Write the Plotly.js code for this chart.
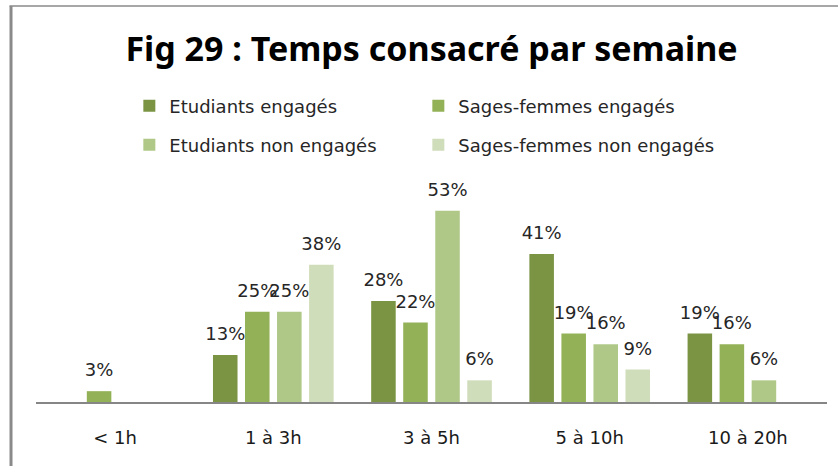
<!DOCTYPE html>
<html>
<head>
<meta charset="utf-8">
<script src="https://cdn.plot.ly/plotly-3.0.1.min.js"></script>
<style>html,body{margin:0;padding:0;background:#fff;}#chart{width:838px;height:466px;}</style>
</head>
<body>
<div id="chart"></div>
<script>
var categories = ['< 1h', '1 à 3h', '3 à 5h', '5 à 10h', '10 à 20h'];
var seriesNames = ['Etudiants engagés', 'Sages-femmes engagés', 'Etudiants non engagés', 'Sages-femmes non engagés'];
var etudiantsEngages = [null, 13, 28, 41, 19];
var sagesFemmesEngages = [3, 25, 22, 19, 16];
var etudiantsNonEngages = [null, 25, 53, 16, 6];
var sagesFemmesNonEngages = [null, 38, 6, 9, null];

var seriesValues = [etudiantsEngages, sagesFemmesEngages, etudiantsNonEngages, sagesFemmesNonEngages];
var colors = ['#7A9443', '#93B157', '#AFC887', '#D0DDBA'];
var legendIds = ['legend', 'legend', 'legend2', 'legend2'];
var legendWidths = [244, 300, 244, 300];

var traces = [];
seriesValues.forEach(function (vals, i) {
  traces.push({
    type: 'bar',
    name: seriesNames[i],
    x: categories,
    y: vals,
    marker: {color: colors[i]},
    legend: legendIds[i],
    legendwidth: legendWidths[i],
    hoverinfo: 'skip'
  });
});
seriesValues.forEach(function (vals, i) {
  traces.push({
    type: 'scatter',
    mode: 'markers+text',
    orientation: 'v',
    x: categories,
    y: vals,
    text: vals.map(function (v) { return v === null ? '' : v + '%'; }),
    textposition: 'top center',
    textfont: {family: 'DejaVu Sans', size: 18, color: '#262626'},
    marker: {size: 15, color: 'rgba(0,0,0,0)'},
    cliponaxis: false,
    showlegend: false,
    hoverinfo: 'skip'
  });
});

var legendCommon = {
  orientation: 'h',
  entrywidthmode: 'pixels',
  font: {family: 'DejaVu Sans', size: 18, color: '#262626'},
  xref: 'paper',
  yref: 'container',
  xanchor: 'left',
  yanchor: 'middle',
  bgcolor: 'rgba(0,0,0,0)',
  traceorder: 'normal'
};

var layout = {
  width: 838,
  height: 466,
  margin: {l: 36, r: 11, t: 185, b: 64, autoexpand: false},
  paper_bgcolor: '#ffffff',
  plot_bgcolor: '#ffffff',
  barmode: 'group',
  bargap: 0.19,
  bargroupgap: 0.234,
  scattermode: 'group',
  scattergap: 0.19,
  title: {
    text: '<b>Fig 29 : Temps consacré par semaine</b>',
    font: {family: 'Noto Sans', size: 34, color: '#000000'},
    xref: 'paper', x: 0.5, xanchor: 'center',
    yref: 'container', y: 0.895, yanchor: 'middle'
  },
  legend: Object.assign({}, legendCommon, {x: 0.118, y: 0.7725}),
  legend2: Object.assign({}, legendCommon, {x: 0.118, y: 0.689}),
  xaxis: {
    type: 'category',
    categoryorder: 'array',
    categoryarray: categories,
    showline: true,
    linecolor: '#868686',
    linewidth: 2,
    ticks: '',
    showgrid: false,
    zeroline: false,
    ticklabelstandoff: 18,
    tickfont: {family: 'DejaVu Sans', size: 18, color: '#1a1a1a'},
    fixedrange: true
  },
  yaxis: {
    range: [0, 60.1],
    visible: false,
    showgrid: false,
    zeroline: false,
    fixedrange: true
  },
  shapes: [
    {type: 'line', xref: 'paper', yref: 'paper', x0: -0.0316, x1: -0.0316, y0: 1.825, y1: -0.35,
     line: {color: '#8a8a8a', width: 3}},
    {type: 'line', xref: 'paper', yref: 'paper', x0: -0.0335, x1: 1.03, y0: 1.825, y1: 1.825,
     line: {color: '#8a8a8a', width: 1.5}}
  ],
  showlegend: true
};

Plotly.newPlot('chart', traces, layout, {displayModeBar: false, staticPlot: true});
</script>
</body>
</html>
